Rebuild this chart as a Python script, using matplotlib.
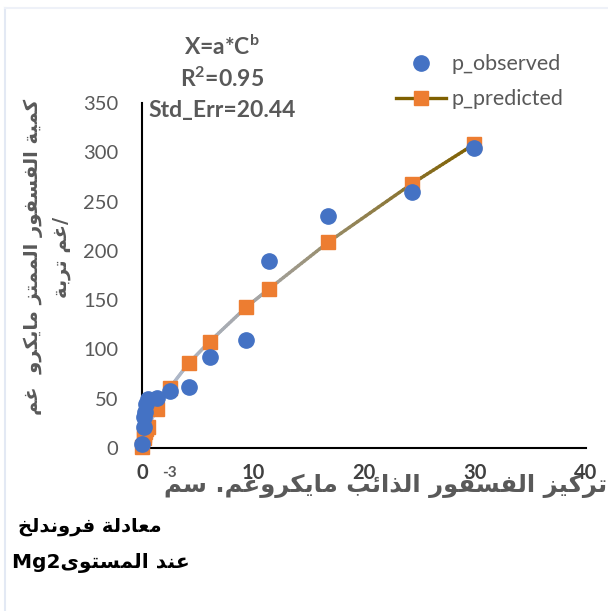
import numpy as np
import matplotlib
matplotlib.use('Agg')
import matplotlib.pyplot as plt
from matplotlib.collections import LineCollection
from matplotlib.colors import LinearSegmentedColormap
from matplotlib.lines import Line2D

# Freundlich isotherm data, Mg2 level
conc = [0.0, 0.15, 0.2, 0.3, 0.4, 0.5, 1.35, 2.5, 4.2, 6.1, 9.4, 11.4, 16.8, 24.3, 29.9]
p_observed = [4, 21, 31, 37, 45, 50, 51, 58, 62, 92, 110, 190, 235, 260, 304]
p_predicted = [1, 10, 13, 16, 19, 21, 40, 61, 86, 108, 143, 161, 209, 268, 308]
x_ticks = [0, 10, 20, 30, 40]
y_ticks = [0, 50, 100, 150, 200, 250, 300, 350]

# matplotlib has no Arabic shaping, so pick presentation forms by hand
DUAL = {'ئ': 0xFE89, 'ب': 0xFE8F, 'ت': 0xFE95, 'ث': 0xFE99, 'ج': 0xFE9D,
        'ح': 0xFEA1, 'خ': 0xFEA5, 'س': 0xFEB1, 'ش': 0xFEB5, 'ص': 0xFEB9,
        'ض': 0xFEBD, 'ط': 0xFEC1, 'ظ': 0xFEC5, 'ع': 0xFEC9, 'غ': 0xFECD,
        'ف': 0xFED1, 'ق': 0xFED5, 'ك': 0xFED9, 'ل': 0xFEDD, 'م': 0xFEE1,
        'ن': 0xFEE5, 'ه': 0xFEE9, 'ي': 0xFEF1}
RIGHT = {'ا': 0xFE8D, 'أ': 0xFE83, 'إ': 0xFE87, 'آ': 0xFE81, 'ة': 0xFE93,
         'د': 0xFEA9, 'ذ': 0xFEAB, 'ر': 0xFEAD, 'ز': 0xFEAF, 'و': 0xFEED,
         'ى': 0xFEEF, 'ؤ': 0xFE85}


def shape(text):
    out = []
    for i, ch in enumerate(text):
        prev = text[i - 1] if i > 0 else ''
        nxt = text[i + 1] if i < len(text) - 1 else ''
        if ch in DUAL or ch in RIGHT:
            base = DUAL.get(ch, RIGHT.get(ch))
            join_prev = prev in DUAL
            join_next = ch in DUAL and (nxt in DUAL or nxt in RIGHT)
            if join_prev and join_next:
                out.append(chr(base + 3))
            elif join_prev:
                out.append(chr(base + 1))
            elif join_next:
                out.append(chr(base + 2))
            else:
                out.append(chr(base))
        else:
            out.append(ch)
    return ''.join(out[::-1])


plt.rcParams['font.family'] = ['Lato', 'DejaVu Sans']
plt.rcParams['mathtext.fontset'] = 'custom'
plt.rcParams['mathtext.rm'] = 'Lato:bold'
plt.rcParams['mathtext.it'] = 'Lato:bold'
plt.rcParams['mathtext.bf'] = 'Lato:bold'

fig = plt.figure(figsize=(6.08, 6.11), dpi=100)
ax = fig.add_axes([142 / 608, 1 - 448 / 611, 444 / 608, 345 / 611])
ax.set_xlim(0, 40)
ax.set_ylim(0, 350)
ax.patch.set_alpha(0)

# predicted curve with colour fading from light blue to dark olive
cmap = LinearSegmentedColormap.from_list('fade', ['#b4c7e7', '#a5a5a5', '#7f6000'])
segs = []
cols = []
for i in range(len(conc) - 1):
    xs = np.linspace(conc[i], conc[i + 1], 21)
    ys = np.linspace(p_predicted[i], p_predicted[i + 1], 21)
    for j in range(20):
        segs.append([(xs[j], ys[j]), (xs[j + 1], ys[j + 1])])
        cols.append(cmap(ys[j] / max(p_predicted)))
ax.add_collection(LineCollection(segs, colors=cols, linewidths=2.4, zorder=2,
                                 capstyle='round'))
ax.plot(conc, p_predicted, linestyle='none', marker='s', markersize=10,
        color='#ed7d31', zorder=3, clip_on=False)
ax.plot(conc, p_observed, linestyle='none', marker='o', markersize=11,
        color='#4472c4', zorder=4, clip_on=False)

for s in ['top', 'right']:
    ax.spines[s].set_visible(False)
for s in ['left', 'bottom']:
    ax.spines[s].set_linewidth(1.5)
    ax.spines[s].set_color('black')

ax.set_xticks(x_ticks)
ax.set_yticks(y_ticks)
ax.tick_params(axis='y', length=0, pad=17, labelsize=14.5, labelcolor='#595959')
ax.tick_params(axis='x', length=0, pad=11, labelsize=14.5, labelcolor='#404040')
for lab in ax.get_xticklabels():
    lab.set_fontweight('bold')

# legend
handles = [Line2D([], [], linestyle='none', marker='o', markersize=11, color='#4472c4'),
           Line2D([], [], color='#7f6000', linewidth=2.4, marker='s', markersize=10,
                  markerfacecolor='#ed7d31', markeredgecolor='#ed7d31')]
ax.legend(handles, ['p_observed', 'p_predicted'], loc='upper left',
          bbox_to_anchor=(377 / 608, 1 - 35 / 611), bbox_transform=fig.transFigure,
          frameon=False, fontsize=15.5, labelcolor='#595959', handlelength=2.3,
          handletextpad=0.25, labelspacing=0.7)

# fit summary
tx = 222 / 608
fig.text(tx, 1 - 47 / 611, 'X=a*C$^{b}$', ha='center', va='center',
         fontsize=16.5, fontweight='bold', color='#595959')
fig.text(tx, 1 - 79 / 611, 'R$^{2}$=0.95', ha='center', va='center',
         fontsize=16.5, fontweight='bold', color='#595959')
fig.text(tx, 1 - 110 / 611, 'Std_Err=20.44', ha='center', va='center',
         fontsize=16.5, fontweight='bold', color='#595959')

# axis titles
ylab = shape('كمية الفسفور الممتز مايكرو  غم') + '\n' + shape('/غم تربة')
fig.text(47 / 608, 1 - 257 / 611, ylab, rotation=90, ha='center', va='center',
         multialignment='center', fontsize=14, fontweight='bold', color='#595959',
         family='DejaVu Sans', linespacing=1.55)

ax.text(607 / 608, 1 - 486 / 611, shape('تركيز الفسفور الذائب مايكروغم. سم'),
        transform=fig.transFigure, ha='right', va='center', fontsize=17.5,
        fontweight='bold', color='#595959', family='DejaVu Sans', zorder=1,
        clip_on=False)
ax.text(177 / 608, 1 - 473 / 611, '-3', transform=fig.transFigure,
        ha='right', va='center', fontsize=11, fontweight='bold', color='#595959',
        zorder=1, clip_on=False)

# caption
fig.text(90 / 608, 1 - 527 / 611, shape('معادلة فروندلخ'), ha='center', va='center',
         fontsize=14, fontweight='bold', color='black', family='DejaVu Sans')
fig.text(12 / 608, 1 - 563 / 611, 'Mg2' + shape('عند المستوى'), ha='left',
         va='center', fontsize=14.5, fontweight='bold', color='black',
         family='DejaVu Sans')

# faint frame on the top and left edges
fig.add_artist(Line2D([5 / 608, 5 / 608], [0, 1 - 8 / 611], color='#e3e9f4',
                      linewidth=1.5, transform=fig.transFigure))
fig.add_artist(Line2D([5 / 608, 1], [1 - 8 / 611, 1 - 8 / 611], color='#eef1f8',
                      linewidth=1.5, transform=fig.transFigure))

fig.savefig('out.png', dpi=100)
